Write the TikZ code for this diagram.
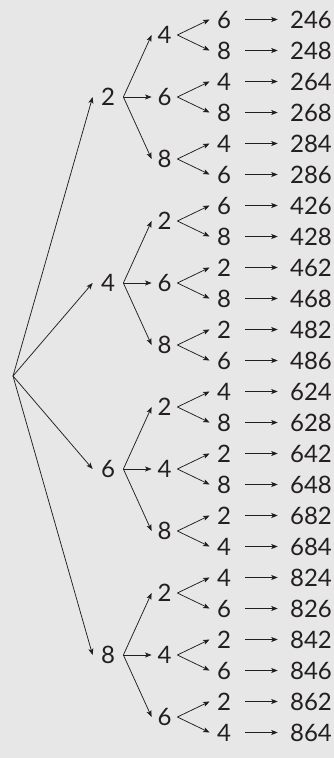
\documentclass[tikz,border=0pt]{standalone}
\usepackage{fontspec}
\setmainfont{Lato}
\usetikzlibrary{arrows.meta}

\definecolor{paper}{RGB}{231,231,231}
\definecolor{ink}{RGB}{35,31,32}

\tikzset{every picture/.style={line width=0.75pt}}
\tikzset{
  digit/.style={text=ink,inner sep=0pt,font=\fontsize{24}{28}\selectfont},
  first/.style={digit,minimum width=30pt},
  second/.style={digit,minimum width=25pt},
  third/.style={digit,minimum width=28pt},
  result/.style={digit,inner xsep=12pt},
  tip/.style={draw=ink,-{Stealth[length=6.5pt,width=5pt,inset=1.5pt]}},
  tipres/.style={tip,shorten <=7pt}
}

\begin{document}
\begin{tikzpicture}[x=1pt,y=1pt,yscale=-1,xscale=1]
		% background and page size
		\fill [paper] (0,0) rectangle (334,758);
		\useasboundingbox (0,0) rectangle (334,758);

		\coordinate (root) at (13,376);

		% first digit
		\node [first] (n2) at (108,97) {2};
		\node [first] (n4) at (108,283) {4};
		\node [first] (n6) at (108,469) {6};
		\node [first] (n8) at (108,655) {8};

		% second digit
		\node [second] (n24) at (164.5,35) {4};
		\node [second] (n26) at (164.5,97) {6};
		\node [second] (n28) at (164.5,159) {8};
		\node [second] (n42) at (164.5,221) {2};
		\node [second] (n46) at (164.5,283) {6};
		\node [second] (n48) at (164.5,345) {8};
		\node [second] (n62) at (164.5,407) {2};
		\node [second] (n64) at (164.5,469) {4};
		\node [second] (n68) at (164.5,531) {8};
		\node [second] (n82) at (164.5,593) {2};
		\node [second] (n84) at (164.5,655) {4};
		\node [second] (n86) at (164.5,717) {6};

		% third digit
		\node [third] (n246) at (224,19.5) {6};
		\node [third] (n248) at (224,50.5) {8};
		\node [third] (n264) at (224,81.5) {4};
		\node [third] (n268) at (224,112.5) {8};
		\node [third] (n284) at (224,143.5) {4};
		\node [third] (n286) at (224,174.5) {6};
		\node [third] (n426) at (224,205.5) {6};
		\node [third] (n428) at (224,236.5) {8};
		\node [third] (n462) at (224,267.5) {2};
		\node [third] (n468) at (224,298.5) {8};
		\node [third] (n482) at (224,329.5) {2};
		\node [third] (n486) at (224,360.5) {6};
		\node [third] (n624) at (224,391.5) {4};
		\node [third] (n628) at (224,422.5) {8};
		\node [third] (n642) at (224,453.5) {2};
		\node [third] (n648) at (224,484.5) {8};
		\node [third] (n682) at (224,515.5) {2};
		\node [third] (n684) at (224,546.5) {4};
		\node [third] (n824) at (224,577.5) {4};
		\node [third] (n826) at (224,608.5) {6};
		\node [third] (n842) at (224,639.5) {2};
		\node [third] (n846) at (224,670.5) {6};
		\node [third] (n862) at (224,701.5) {2};
		\node [third] (n864) at (224,732.5) {4};

		% numbers
		\node [result] (r246) at (311,19.5) {246};
		\node [result] (r248) at (311,50.5) {248};
		\node [result] (r264) at (311,81.5) {264};
		\node [result] (r268) at (311,112.5) {268};
		\node [result] (r284) at (311,143.5) {284};
		\node [result] (r286) at (311,174.5) {286};
		\node [result] (r426) at (311,205.5) {426};
		\node [result] (r428) at (311,236.5) {428};
		\node [result] (r462) at (311,267.5) {462};
		\node [result] (r468) at (311,298.5) {468};
		\node [result] (r482) at (311,329.5) {482};
		\node [result] (r486) at (311,360.5) {486};
		\node [result] (r624) at (311,391.5) {624};
		\node [result] (r628) at (311,422.5) {628};
		\node [result] (r642) at (311,453.5) {642};
		\node [result] (r648) at (311,484.5) {648};
		\node [result] (r682) at (311,515.5) {682};
		\node [result] (r684) at (311,546.5) {684};
		\node [result] (r824) at (311,577.5) {824};
		\node [result] (r826) at (311,608.5) {826};
		\node [result] (r842) at (311,639.5) {842};
		\node [result] (r846) at (311,670.5) {846};
		\node [result] (r862) at (311,701.5) {862};
		\node [result] (r864) at (311,732.5) {864};

		% root to first digit
		\draw [tip] (root) -- (n2.west);
		\draw [tip] (root) -- (n4.west);
		\draw [tip] (root) -- (n6.west);
		\draw [tip] (root) -- (n8.west);

		% first to second digit
		\draw [tip] (n2.east) -- (n24.west);
		\draw [tip] (n2.east) -- (n26.west);
		\draw [tip] (n2.east) -- (n28.west);
		\draw [tip] (n4.east) -- (n42.west);
		\draw [tip] (n4.east) -- (n46.west);
		\draw [tip] (n4.east) -- (n48.west);
		\draw [tip] (n6.east) -- (n62.west);
		\draw [tip] (n6.east) -- (n64.west);
		\draw [tip] (n6.east) -- (n68.west);
		\draw [tip] (n8.east) -- (n82.west);
		\draw [tip] (n8.east) -- (n84.west);
		\draw [tip] (n8.east) -- (n86.west);

		% second to third digit
		\draw [tip] (n24.east) -- (n246.west);
		\draw [tip] (n24.east) -- (n248.west);
		\draw [tip] (n26.east) -- (n264.west);
		\draw [tip] (n26.east) -- (n268.west);
		\draw [tip] (n28.east) -- (n284.west);
		\draw [tip] (n28.east) -- (n286.west);
		\draw [tip] (n42.east) -- (n426.west);
		\draw [tip] (n42.east) -- (n428.west);
		\draw [tip] (n46.east) -- (n462.west);
		\draw [tip] (n46.east) -- (n468.west);
		\draw [tip] (n48.east) -- (n482.west);
		\draw [tip] (n48.east) -- (n486.west);
		\draw [tip] (n62.east) -- (n624.west);
		\draw [tip] (n62.east) -- (n628.west);
		\draw [tip] (n64.east) -- (n642.west);
		\draw [tip] (n64.east) -- (n648.west);
		\draw [tip] (n68.east) -- (n682.west);
		\draw [tip] (n68.east) -- (n684.west);
		\draw [tip] (n82.east) -- (n824.west);
		\draw [tip] (n82.east) -- (n826.west);
		\draw [tip] (n84.east) -- (n842.west);
		\draw [tip] (n84.east) -- (n846.west);
		\draw [tip] (n86.east) -- (n862.west);
		\draw [tip] (n86.east) -- (n864.west);

		% third digit to number
		\draw [tipres] (n246) -- (r246);
		\draw [tipres] (n248) -- (r248);
		\draw [tipres] (n264) -- (r264);
		\draw [tipres] (n268) -- (r268);
		\draw [tipres] (n284) -- (r284);
		\draw [tipres] (n286) -- (r286);
		\draw [tipres] (n426) -- (r426);
		\draw [tipres] (n428) -- (r428);
		\draw [tipres] (n462) -- (r462);
		\draw [tipres] (n468) -- (r468);
		\draw [tipres] (n482) -- (r482);
		\draw [tipres] (n486) -- (r486);
		\draw [tipres] (n624) -- (r624);
		\draw [tipres] (n628) -- (r628);
		\draw [tipres] (n642) -- (r642);
		\draw [tipres] (n648) -- (r648);
		\draw [tipres] (n682) -- (r682);
		\draw [tipres] (n684) -- (r684);
		\draw [tipres] (n824) -- (r824);
		\draw [tipres] (n826) -- (r826);
		\draw [tipres] (n842) -- (r842);
		\draw [tipres] (n846) -- (r846);
		\draw [tipres] (n862) -- (r862);
		\draw [tipres] (n864) -- (r864);

		\end{tikzpicture}
\end{document}
